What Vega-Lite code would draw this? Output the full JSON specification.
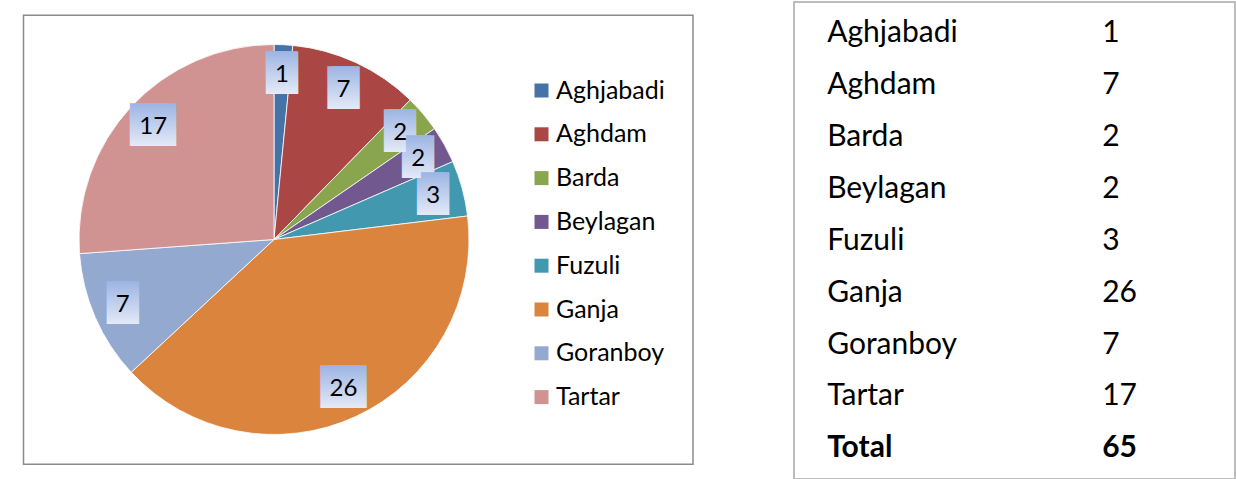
{
  "$schema": "https://vega.github.io/schema/vega-lite/v6.json",
  "padding": {"left": 3, "top": 1, "right": 0, "bottom": 0},
  "spacing": 79,
  "config": {
    "view": {"stroke": "#bdbdbd", "strokeWidth": 2},
    "font": "Lato"
  },
  "hconcat": [
    {
      "width": 711,
      "height": 475,
      "data": {
        "values": [
          {"region": "Aghjabadi", "count": 1},
          {"region": "Aghdam", "count": 7},
          {"region": "Barda", "count": 2},
          {"region": "Beylagan", "count": 2},
          {"region": "Fuzuli", "count": 3},
          {"region": "Ganja", "count": 26},
          {"region": "Goranboy", "count": 7},
          {"region": "Tartar", "count": 17}
        ]
      },
      "transform": [{"window": [{"op": "row_number", "as": "idx"}]}],
      "layer": [
        {
          "data": {"values": [{}]},
          "transform": [],
          "mark": {"type": "rect", "x": 20.5, "x2": 690, "y": 13.2, "y2": 462.2, "fillOpacity": 0, "stroke": "#8a8a8a", "strokeWidth": 1.5},
          "encoding": {}
        },
        {
          "mark": {"type": "arc", "x": 271, "y": 237.5, "outerRadius": 195, "stroke": "#ffffff", "strokeWidth": 0.8},
          "encoding": {
            "theta": {"field": "count", "type": "quantitative", "stack": true},
            "order": {"field": "idx", "type": "quantitative"},
            "color": {
              "field": "region",
              "type": "nominal",
              "scale": {
                "domain": ["Aghjabadi", "Aghdam", "Barda", "Beylagan", "Fuzuli", "Ganja", "Goranboy", "Tartar"],
                "range": ["#4572A7", "#AA4643", "#89A54E", "#71588F", "#4198AF", "#DB843D", "#93A9CF", "#D19392"]
              },
              "legend": {
                "orient": "none",
                "legendX": 526,
                "legendY": 76,
                "title": null,
                "padding": 0,
                "symbolType": "square",
                "symbolSize": 196,
                "symbolStrokeWidth": 0,
                "labelFont": "Lato",
                "labelFontSize": 25,
                "labelColor": "#000000",
                "labelOffset": 2,
                "rowPadding": 17.8
              }
            }
          }
        },
        {
          "mark": {"type": "text", "x": 271, "y": 237.5, "dx": -2, "dy": -1, "text": "█", "font": "DejaVu Sans", "fontSize": 36, "baseline": "middle", "align": "center",
            "color": {"gradient": "linear", "x1": 0, "y1": 0, "x2": 0, "y2": 1, "stops": [{"offset": 0, "color": "#9cb4e3"}, {"offset": 1, "color": "#e4eaf7"}]}},
          "encoding": {
            "theta": {"field": "count", "type": "quantitative", "stack": true},
            "order": {"field": "idx", "type": "quantitative"},
            "detail": {"field": "region", "type": "nominal"},
            "radius": {"value": 165}
          }
        },
        {
          "mark": {"type": "text", "x": 271, "y": 237.5, "dx": 2, "dy": -1, "text": "█", "font": "DejaVu Sans", "fontSize": 36, "baseline": "middle", "align": "center",
            "color": {"gradient": "linear", "x1": 0, "y1": 0, "x2": 0, "y2": 1, "stops": [{"offset": 0, "color": "#9cb4e3"}, {"offset": 1, "color": "#e4eaf7"}]}},
          "encoding": {
            "theta": {"field": "count", "type": "quantitative", "stack": true},
            "order": {"field": "idx", "type": "quantitative"},
            "detail": {"field": "region", "type": "nominal"},
            "radius": {"value": 165}
          }
        },
        {
          "mark": {"type": "text", "x": 271, "y": 237.5, "dx": -9, "dy": -1, "text": "█", "font": "DejaVu Sans", "fontSize": 36, "baseline": "middle", "align": "center",
            "color": {"gradient": "linear", "x1": 0, "y1": 0, "x2": 0, "y2": 1, "stops": [{"offset": 0, "color": "#9cb4e3"}, {"offset": 1, "color": "#e4eaf7"}]}},
          "encoding": {
            "theta": {"field": "count", "type": "quantitative", "stack": true},
            "order": {"field": "idx", "type": "quantitative"},
            "detail": {"field": "region", "type": "nominal"},
            "radius": {"value": 165},
            "opacity": {"condition": {"test": "datum.count >= 10", "value": 1}, "value": 0}
          }
        },
        {
          "mark": {"type": "text", "x": 271, "y": 237.5, "dx": 9, "dy": -1, "text": "█", "font": "DejaVu Sans", "fontSize": 36, "baseline": "middle", "align": "center",
            "color": {"gradient": "linear", "x1": 0, "y1": 0, "x2": 0, "y2": 1, "stops": [{"offset": 0, "color": "#9cb4e3"}, {"offset": 1, "color": "#e4eaf7"}]}},
          "encoding": {
            "theta": {"field": "count", "type": "quantitative", "stack": true},
            "order": {"field": "idx", "type": "quantitative"},
            "detail": {"field": "region", "type": "nominal"},
            "radius": {"value": 165},
            "opacity": {"condition": {"test": "datum.count >= 10", "value": 1}, "value": 0}
          }
        },
        {
          "mark": {"type": "text", "x": 271, "y": 237.5, "fontSize": 24, "baseline": "middle", "align": "center", "color": "#000000"},
          "encoding": {
            "theta": {"field": "count", "type": "quantitative", "stack": true},
            "order": {"field": "idx", "type": "quantitative"},
            "detail": {"field": "region", "type": "nominal"},
            "radius": {"value": 165},
            "text": {"field": "count", "type": "quantitative"}
          }
        }
      ]
    },
    {
      "width": 441,
      "height": 477,
      "data": {
        "values": [
          {"name": "Aghjabadi", "count": 1},
          {"name": "Aghdam", "count": 7},
          {"name": "Barda", "count": 2},
          {"name": "Beylagan", "count": 2},
          {"name": "Fuzuli", "count": 3},
          {"name": "Ganja", "count": 26},
          {"name": "Goranboy", "count": 7},
          {"name": "Tartar", "count": 17},
          {"name": "Total", "count": 65}
        ]
      },
      "encoding": {
        "y": {
          "field": "name",
          "type": "nominal",
          "sort": null,
          "axis": null,
          "scale": {"type": "point", "padding": 0.5946, "align": 0.649}
        }
      },
      "layer": [
        {
          "transform": [{"filter": "datum.name !== 'Total'"}],
          "mark": {"type": "text", "align": "left", "baseline": "alphabetic", "fontSize": 30, "color": "#000000"},
          "encoding": {
            "x": {"datum": "Region", "type": "nominal", "axis": null, "scale": {"type": "point", "domain": ["Region", "Count"], "padding": 0.3018, "align": 0.2}},
            "text": {"field": "name", "type": "nominal"}
          }
        },
        {
          "transform": [{"filter": "datum.name !== 'Total'"}],
          "mark": {"type": "text", "align": "left", "baseline": "alphabetic", "fontSize": 30, "color": "#000000"},
          "encoding": {
            "x": {"datum": "Count", "type": "nominal"},
            "text": {"field": "count", "type": "quantitative"}
          }
        },
        {
          "transform": [{"filter": "datum.name === 'Total'"}],
          "mark": {"type": "text", "align": "left", "baseline": "alphabetic", "fontSize": 30, "fontWeight": "bold", "color": "#000000"},
          "encoding": {
            "x": {"datum": "Region", "type": "nominal"},
            "text": {"field": "name", "type": "nominal"}
          }
        },
        {
          "transform": [{"filter": "datum.name === 'Total'"}],
          "mark": {"type": "text", "align": "left", "baseline": "alphabetic", "fontSize": 30, "fontWeight": "bold", "color": "#000000"},
          "encoding": {
            "x": {"datum": "Count", "type": "nominal"},
            "text": {"field": "count", "type": "quantitative"}
          }
        }
      ]
    }
  ]
}
